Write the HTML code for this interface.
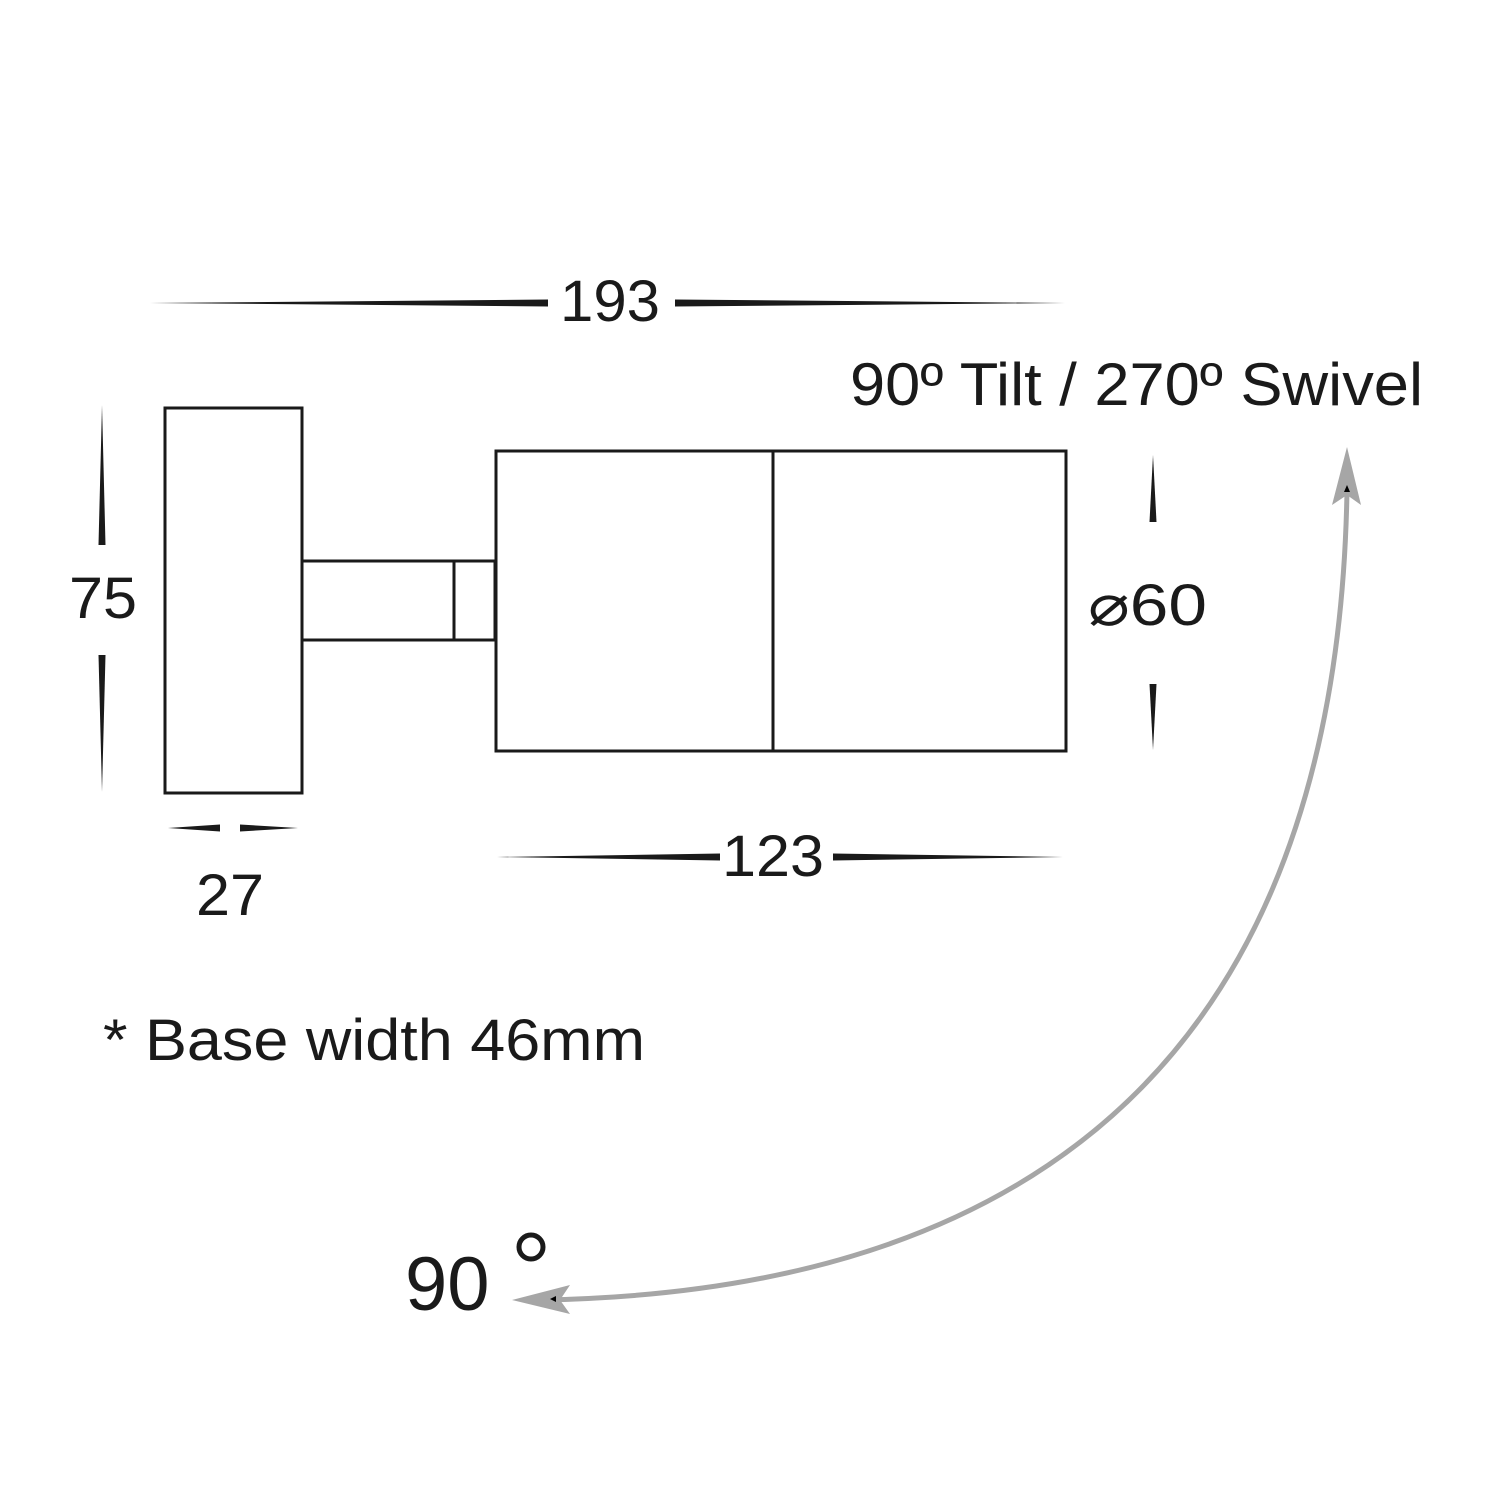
<!DOCTYPE html>
<html><head><style>html,body{margin:0;padding:0;background:#fff}svg{display:block}</style></head>
<body>
<svg width="1500" height="1500" viewBox="0 0 1500 1500" xmlns="http://www.w3.org/2000/svg">
<g fill="#1a1a1a">
<polygon points="150,303 548,299.5 548,306.5"/>
<polygon points="1065,303 675,299.5 675,306.5"/>
<polygon points="497,857 720,853.5 720,860.5"/>
<polygon points="1063,857 833,853.5 833,860.5"/>
<polygon points="168,828 220,824.5 220,831.5"/>
<polygon points="298,828 240,824.5 240,831.5"/>
<polygon points="102,405 98.5,545 105.5,545"/>
<polygon points="102,792 98.5,655 105.5,655"/>
<polygon points="1153,455 1149.5,522 1156.5,522"/>
<polygon points="1153,750 1149.5,684 1156.5,684"/>
</g>
<g fill="none" stroke="#1a1a1a" stroke-width="3">
<rect x="165" y="408" width="137" height="385"/>
<rect x="302" y="561" width="193" height="79"/>
<line x1="454" y1="561" x2="454" y2="640"/>
<rect x="496" y="451" width="570" height="300"/>
<line x1="773" y1="451" x2="773" y2="751"/>
</g>
<path d="M1347,490 C1340,920 1160,1290 540,1300" fill="none" stroke="#a6a6a6" stroke-width="5"/>
<polygon points="1347,447 1361,505 1347,495 1332,505" fill="#a6a6a6"/>
<polygon points="512,1300 570,1285 560,1300 570,1314" fill="#a6a6a6"/>
<polygon points="1347,485 1350,492 1344,492" fill="#000"/>
<polygon points="550,1299 556,1296 556,1302" fill="#000"/>
<g font-family="Liberation Sans, sans-serif" fill="#1a1a1a">
<text x="560" y="321" font-size="58" textLength="100" lengthAdjust="spacingAndGlyphs">193</text>
<text x="722" y="876" font-size="58" textLength="102" lengthAdjust="spacingAndGlyphs">123</text>
<text x="196" y="915" font-size="58" textLength="68" lengthAdjust="spacingAndGlyphs">27</text>
<text x="69" y="618" font-size="58" textLength="68" lengthAdjust="spacingAndGlyphs">75</text>
<text x="1088" y="625" font-size="58" textLength="119" lengthAdjust="spacingAndGlyphs">⌀60</text>
<text x="103" y="1060" font-size="58" textLength="542" lengthAdjust="spacingAndGlyphs">* Base width 46mm</text>
<text x="850" y="405" font-size="60" textLength="573" lengthAdjust="spacingAndGlyphs">90º Tilt / 270º Swivel</text>
<text x="405" y="1310" font-size="76">90</text>
<circle cx="531" cy="1247" r="12" fill="none" stroke="#1a1a1a" stroke-width="5"/>
</g>
</svg>
</body></html>
